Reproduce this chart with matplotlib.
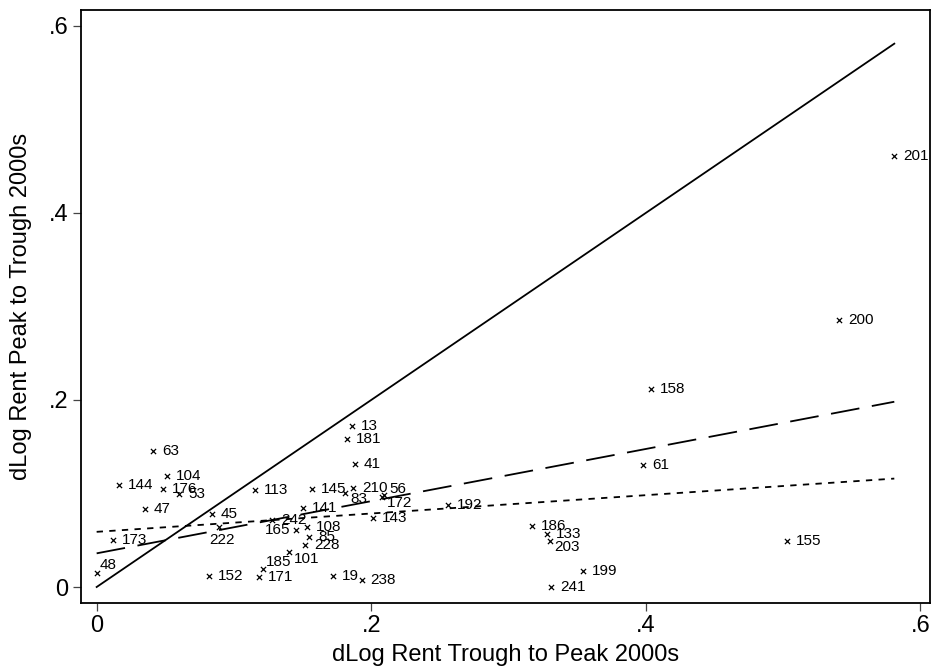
import matplotlib
matplotlib.use("Agg")
import matplotlib.pyplot as plt
import numpy as np

plt.rcParams['font.family'] = ['Liberation Sans', 'DejaVu Sans']

# ---- data ----
ids = ['48', '173', '63', '104', '144', '176', '53', '47', '45', '222', '152',
       '113', '13', '181', '41', '145', '210', '83', '56', '172', '141', '143',
       '242', '108', '165', '85', '228', '101', '185', '171', '19', '238',
       '192', '186', '133', '203', '199', '241', '158', '61', '155', '200', '201']
x_trough_to_peak = [0.000, 0.012, 0.041, 0.051, 0.016, 0.048, 0.060, 0.035, 0.084, 0.089, 0.082,
                    0.115, 0.186, 0.182, 0.188, 0.157, 0.187, 0.181, 0.209, 0.208, 0.150, 0.201,
                    0.128, 0.153, 0.145, 0.155, 0.152, 0.140, 0.121, 0.118, 0.172, 0.193,
                    0.256, 0.317, 0.328, 0.330, 0.354, 0.331, 0.404, 0.398, 0.503, 0.541, 0.581]
y_peak_to_trough = [0.015, 0.050, 0.145, 0.119, 0.109, 0.105, 0.099, 0.083, 0.078, 0.064, 0.012,
                    0.104, 0.172, 0.158, 0.132, 0.105, 0.106, 0.101, 0.098, 0.096, 0.084, 0.074,
                    0.072, 0.064, 0.061, 0.053, 0.045, 0.037, 0.019, 0.011, 0.012, 0.007,
                    0.088, 0.065, 0.057, 0.049, 0.017, 0.000, 0.212, 0.130, 0.049, 0.286, 0.461]

# fitted lines (intercept, slope)
dashed_fit = (0.036, 0.279)
dotted_fit = (0.059, 0.098)

x_ticks = [0, 0.2, 0.4, 0.6]
x_ticklabels = ['0', '.2', '.4', '.6']
y_ticks = [0, 0.2, 0.4, 0.6]
y_ticklabels = ['0', '.2', '.4', '.6']

# label clock positions (style, not data)
label_pos = {'48': 1, '222': 6, '165': 9, '83': 4, '172': 4, '203': 4, '101': 4,
             '185': 1, '56': 2}

# ---- figure ----
fig = plt.figure(figsize=(9.31, 6.68), dpi=100)
ax = fig.add_axes([81/931, 1 - 603/668, (930-81)/931, (603-10)/668])

x = np.array(x_trough_to_peak)
y = np.array(y_peak_to_trough)

ax.scatter(x, y, marker='x', s=14, color='black', linewidths=0.9, zorder=3)

xr = np.array([x.min(), x.max()])
ax.plot(xr, xr, color='black', lw=1.3, zorder=2)
ax.plot(xr, dashed_fit[0] + dashed_fit[1]*xr, color='black', lw=1.3,
        dashes=(16, 7), zorder=2)
ax.plot(xr, dotted_fit[0] + dotted_fit[1]*xr, color='black', lw=1.3,
        dashes=(3.5, 3.5), zorder=2)

offsets = {3: ((6.5, 0), 'left', 'center'),
           4: ((3.5, -4.5), 'left', 'center'),
           1: ((2.0, 5.5), 'left', 'center'),
           2: ((4.5, 4.5), 'left', 'center'),
           6: ((2.5, -9.5), 'center', 'center'),
           9: ((-4.0, 0), 'right', 'center')}
for lab, xi, yi in zip(ids, x, y):
    p = label_pos.get(lab, 3)
    off, ha, va = offsets[p]
    ax.annotate(lab, (xi, yi), xytext=off, textcoords='offset points',
                ha=ha, va=va, fontsize=11, color='black', zorder=4)

ax.set_xlim(-0.0114, 0.607)
ax.set_ylim(-0.0171, 0.617)
ax.set_xticks(x_ticks)
ax.set_xticklabels(x_ticklabels)
ax.set_yticks(y_ticks)
ax.set_yticklabels(y_ticklabels)
ax.tick_params(axis='both', direction='out', length=6, width=0.9, color='#444444',
               labelsize=17, pad=3)
for s in ax.spines.values():
    s.set_linewidth(1.3)
    s.set_color('black')

ax.set_xlabel('dLog Rent Trough to Peak 2000s', fontsize=17, labelpad=5)
ax.set_ylabel('dLog Rent Peak to Trough 2000s', fontsize=17, labelpad=12)

fig.savefig('out.png', dpi=100)
